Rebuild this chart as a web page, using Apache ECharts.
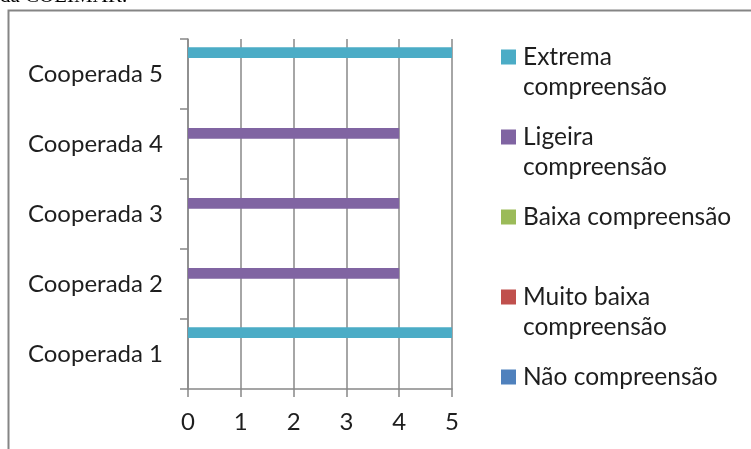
<!DOCTYPE html>
<html>
<head>
<meta charset="utf-8">
<script src="https://cdn.jsdelivr.net/npm/echarts@6/dist/echarts.min.js"></script>
<style>
  html, body { margin: 0; padding: 0; background: #ffffff; }
  #chart { width: 751px; height: 449px; }
</style>
</head>
<body>
<div id="chart"></div>
<script>
// Categories on the vertical axis (bottom to top)
const categories = ['Cooperada 1', 'Cooperada 2', 'Cooperada 3', 'Cooperada 4', 'Cooperada 5'];

// Series names, listed from the top bar of each group downwards
const seriesNames = [
  'Extrema compreensão',
  'Ligeira compreensão',
  'Baixa compreensão',
  'Muito baixa compreensão',
  'Não compreensão'
];

// Values per series, one per cooperada (1..5)
const extremaValues     = [5, 0, 0, 0, 5];
const ligeiraValues     = [0, 4, 4, 4, 0];
const baixaValues       = [0, 0, 0, 0, 0];
const muitoBaixaValues  = [0, 0, 0, 0, 0];
const naoValues         = [0, 0, 0, 0, 0];

// Value axis ticks
const xTicks = [0, 1, 2, 3, 4, 5];

// Legend labels as wrapped in the key (every entry takes two lines)
const legendLabels = {
  'Extrema compreensão': 'Extrema\ncompreensão',
  'Ligeira compreensão': 'Ligeira\ncompreensão',
  'Baixa compreensão': 'Baixa compreensão\n ',
  'Muito baixa compreensão': 'Muito baixa\ncompreensão',
  'Não compreensão': 'Não compreensão\n '
};

const seriesValues = [extremaValues, ligeiraValues, baixaValues, muitoBaixaValues, naoValues];
const seriesColors = ['#4BACC6', '#8064A2', '#9BBB59', '#C0504D', '#4F81BD'];

const FONT = 'Lato, "Open Sans", sans-serif';
const TEXT_COLOR = '#1e1e1e';
const AXIS_COLOR = '#888888';

const chart = echarts.init(document.getElementById('chart'), null, { renderer: 'canvas' });

// Legend swatch: a square in the top third of a tall box, so it lines up
// with the first line of a two-line label
const SWATCH = 'path://M0,0L15,0L15,15L0,15ZM0,45L0.01,45L0.01,45.01Z';

// One legend block per series so the entries sit on an even vertical rhythm
const legendTops = [42, 122, 202, 282, 362];
const legends = seriesNames.map((name, i) => ({
  data: [name],
  orient: 'vertical',
  left: 501,
  top: legendTops[i],
  padding: 0,
  itemWidth: 15,
  itemHeight: 45,
  icon: SWATCH,
  selectedMode: false,
  formatter: n => legendLabels[n],
  textStyle: {
    fontFamily: FONT,
    fontSize: 24.5,
    color: TEXT_COLOR,
    lineHeight: 30,
    padding: [0, 0, 0, 2]
  }
}));

const option = {
  animation: false,
  backgroundColor: '#ffffff',
  legend: legends,
  grid: {
    left: 188,
    top: 39,
    width: 264,
    height: 350,
    containLabel: false,
    outerBoundsMode: 'none'
  },
  xAxis: {
    type: 'value',
    min: xTicks[0],
    max: xTicks[xTicks.length - 1],
    interval: 1,
    axisLine: { show: true, lineStyle: { color: AXIS_COLOR, width: 1.5 } },
    axisTick: { show: true, length: 8, lineStyle: { color: AXIS_COLOR, width: 1.5 } },
    splitLine: { show: true, lineStyle: { color: AXIS_COLOR, width: 1.5 } },
    axisLabel: {
      margin: 21,
      fontFamily: FONT,
      fontSize: 24,
      color: TEXT_COLOR
    }
  },
  yAxis: {
    type: 'category',
    data: categories,
    boundaryGap: true,
    axisLine: { show: true, lineStyle: { color: AXIS_COLOR, width: 1.5 } },
    axisTick: { show: true, length: 8, alignWithLabel: false, lineStyle: { color: AXIS_COLOR, width: 1.5 } },
    splitLine: { show: false },
    axisLabel: {
      margin: 25,
      fontFamily: FONT,
      fontSize: 24,
      color: TEXT_COLOR
    }
  },
  series: seriesNames.map((name, i) => ({
    name: name,
    type: 'bar',
    data: seriesValues[i],
    barWidth: 10.7,
    barGap: '0%',
    itemStyle: { color: seriesColors[i] },
    emphasis: { disabled: true }
  })),
  graphic: [
    {
      // frame around the chart area
      type: 'rect',
      shape: { x: 8.5, y: 10.5, width: 800, height: 500 },
      style: { fill: null, stroke: '#858585', lineWidth: 2 },
      silent: true
    },
    {
      // running text of the page above the frame
      type: 'text',
      x: 0,
      y: -14,
      style: {
        text: 'da COLIMAR.',
        font: '21px "Liberation Serif", "Times New Roman", serif',
        fill: '#000000',
        verticalAlign: 'top'
      },
      silent: true
    }
  ]
};

chart.setOption(option);
</script>
</body>
</html>
